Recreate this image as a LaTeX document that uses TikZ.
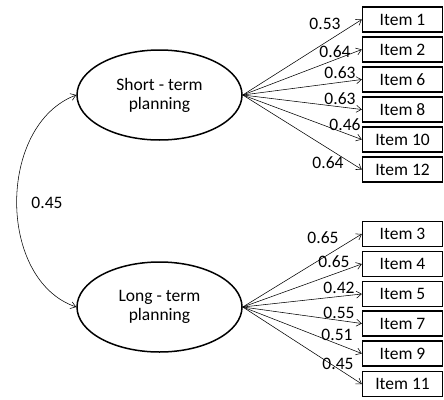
\documentclass[tikz,border=0pt]{standalone}
\usepackage{fontspec}
\setmainfont{Carlito}
\usetikzlibrary{shapes.geometric,arrows.meta}
\begin{document}
\begin{tikzpicture}[x=1pt,y=-1pt,
  every node/.style={font=\fontsize{17.5}{19}\selectfont},
  latent/.style={draw,ellipse,line width=1.5pt,minimum width=165pt,minimum height=90pt,inner sep=0pt,align=center},
  item/.style={draw,rectangle,line width=1.4pt,minimum width=80pt,minimum height=25pt,inner sep=0pt},
  load/.style={-{Straight Barb[length=5pt,width=7pt]},line width=0.55pt},
  lbl/.style={inner sep=0pt,fill=none}]
\useasboundingbox (0,0) rectangle (444,399);
\node[latent] (st) at (159.5,95) {Short - term\\planning};
\node[latent] (lt) at (159.5,307) {Long - term\\planning};
% items
\node[item] (i1) at (402.5,19.5) {Item 1};
\node[item] (i2) at (402.5,49.5) {Item 2};
\node[item] (i6) at (402.5,79.5) {Item 6};
\node[item] (i8) at (402.5,109.5) {Item 8};
\node[item] (i10) at (402.5,139.5) {Item 10};
\node[item] (i12) at (402.5,169.5) {Item 12};
\node[item] (i3) at (402.5,234) {Item 3};
\node[item] (i4) at (402.5,264) {Item 4};
\node[item] (i5) at (402.5,294) {Item 5};
\node[item] (i7) at (402.5,323.5) {Item 7};
\node[item] (i9) at (402.5,353.5) {Item 9};
\node[item] (i11) at (402.5,384) {Item 11};
% loadings
\foreach \t in {i1,i2,i6,i8,i10,i12} \draw[load] (st.east) -- (\t.west);
\foreach \t in {i3,i4,i5,i7,i9,i11} \draw[load] (lt.east) -- (\t.west);
% labels
\node[lbl] (l1) at (325,24) {0.53};
\node[lbl] (l2) at (335,52) {0.64};
\node[lbl] (l6) at (340,73) {0.63};
\node[lbl] (l8) at (340,99) {0.63};
\node[lbl] (l10) at (345,125) {0.46};
\node[lbl] (l12) at (328,163) {0.64};
\node[lbl] (l3) at (323,238) {0.65};
\node[lbl] (l4) at (334,262) {0.65};
\node[lbl] (l5) at (339,288) {0.42};
\node[lbl] (l7) at (339,313) {0.55};
\node[lbl] (l9) at (337,335) {0.51};
\node[lbl] (l11) at (338,364) {0.45};
% correlation
\draw[{Straight Barb[length=5pt,width=7pt]}-{Straight Barb[length=5pt,width=7pt]},line width=0.55pt]
  (st.west) .. controls (-3,125) and (-3,280) .. (lt.west);
\node[lbl] (r) at (47,203) {0.45};
\end{tikzpicture}
\end{document}
